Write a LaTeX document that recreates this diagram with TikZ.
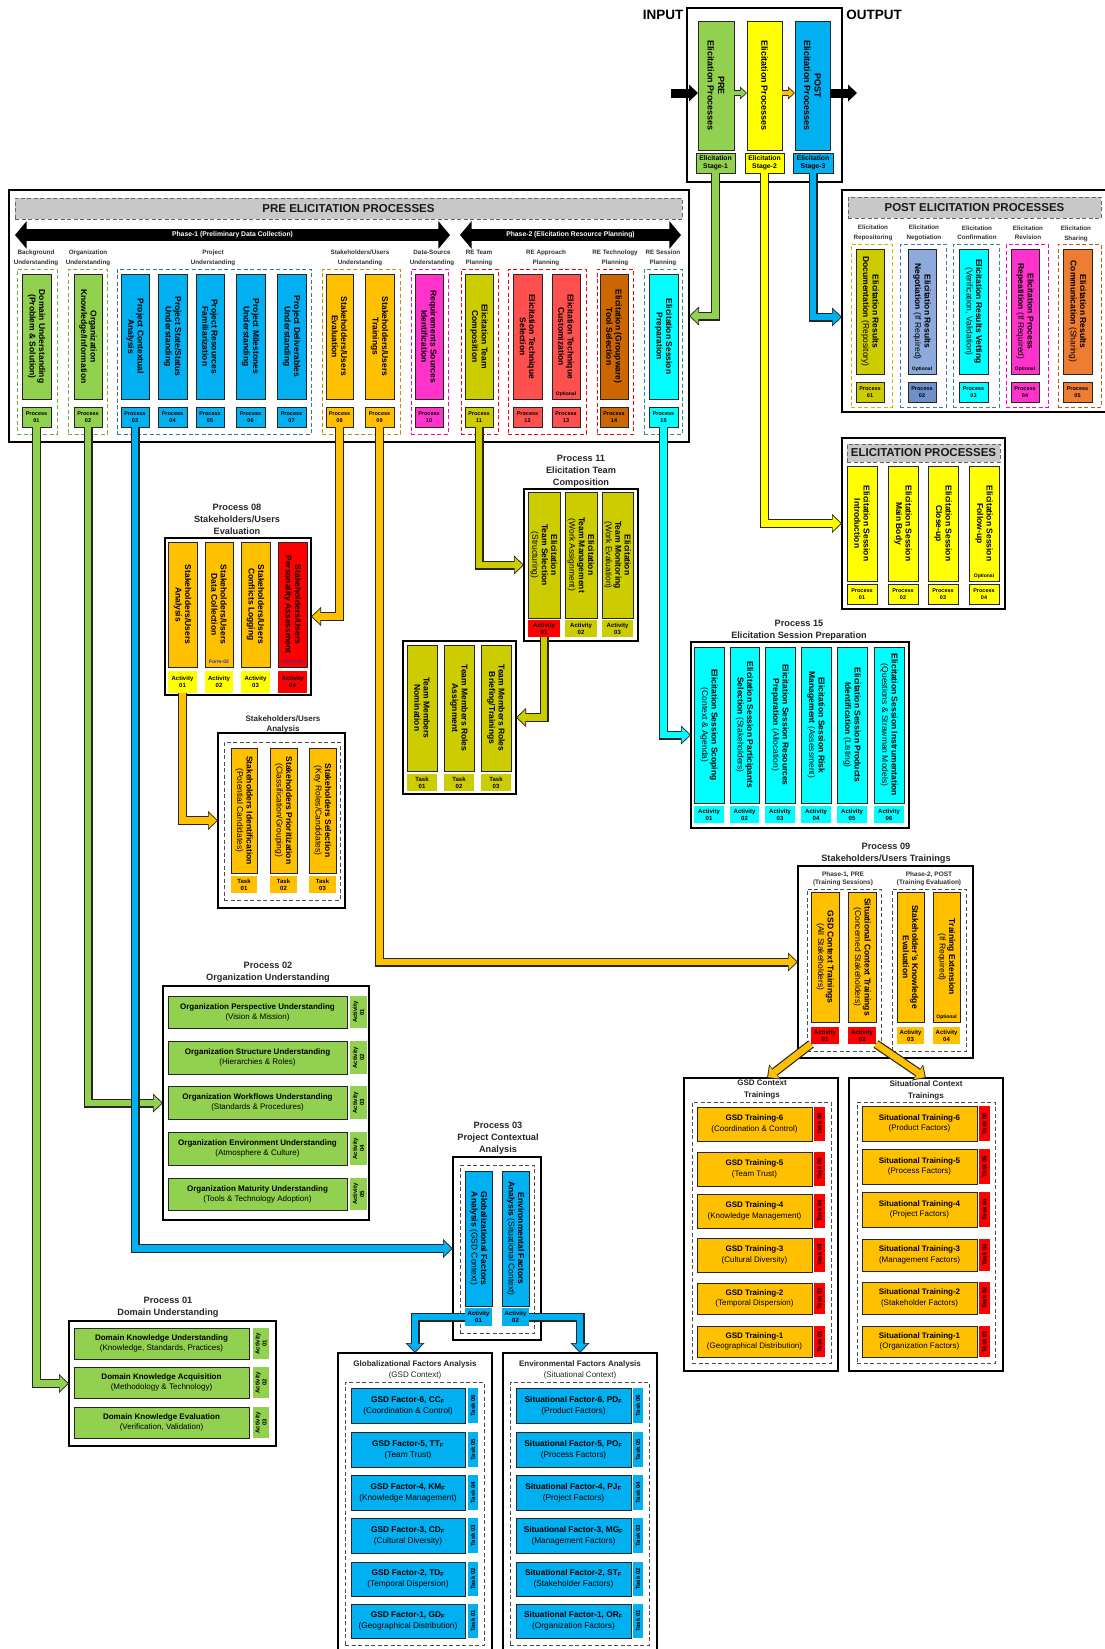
\documentclass[tikz,border=0pt]{standalone}
\usepackage{fontspec}
\setmainfont{Liberation Sans}
\usetikzlibrary{arrows.meta,shapes.arrows,calc}
\definecolor{cgreen}{HTML}{92D050}
\definecolor{cyellow}{HTML}{FFFF00}
\definecolor{cblue}{HTML}{00B0F0}
\definecolor{corange}{HTML}{FFC000}
\definecolor{cmag}{HTML}{FF33CC}
\definecolor{csalmon}{HTML}{FF5050}
\definecolor{colive}{HTML}{CCCC00}
\definecolor{cbrown}{HTML}{CC6600}
\definecolor{ccyan}{HTML}{00FFFF}
\definecolor{cperi}{HTML}{8EA9DB}
\definecolor{cperid}{HTML}{6F8FC8}
\definecolor{corgb}{HTML}{ED7D31}
\definecolor{cred}{HTML}{FF0000}
\definecolor{cgray}{HTML}{C8C8C8}
\definecolor{dgreen}{HTML}{70AD47}
\definecolor{dblue}{HTML}{2E75B6}
\definecolor{dorange}{HTML}{BF9000}
\definecolor{dmag}{HTML}{FF00CC}
\definecolor{dred}{HTML}{FF0000}
\definecolor{dteal}{HTML}{2F8F8F}
\definecolor{dolive}{HTML}{BFBF00}
\definecolor{dperi}{HTML}{4472C4}
\definecolor{dbrown}{HTML}{C55A11}
\definecolor{formblue}{HTML}{3030C0}
\tikzset{
 nb/.style={inner sep=0.5pt,outer sep=0pt,align=center,text=black},
 tallbox/.style={nb,draw=black!85,line width=0.7pt,rotate=-90,font=\fontsize{8.5}{9.4}\selectfont\bfseries},
 plab/.style={nb,draw=black!85,line width=0.7pt,font=\fontsize{5.5}{6.6}\selectfont\bfseries},
 alab/.style={nb,font=\fontsize{6}{7}\selectfont\bfseries},
 vlab/.style={nb,rotate=90,font=\fontsize{6}{7}\selectfont\bfseries},
 obox/.style={nb,draw=black,line width=1.3pt},
 dgrp/.style={nb,draw=black!70,line width=0.9pt,dash pattern=on 4pt off 2.5pt},
 catl/.style={nb,font=\fontsize{6.3}{9.3}\selectfont\bfseries,text=black!80},
 ttl/.style={nb,font=\fontsize{9.2}{12}\selectfont\bfseries,text=black!85},
 hitem/.style={nb,draw=black!85,line width=0.8pt,font=\fontsize{8}{10}\selectfont\bfseries},
 hdr/.style={nb,draw=black!60,line width=0.8pt,dash pattern=on 4pt off 2.5pt,font=\fontsize{11.5}{13}\selectfont\bfseries,text=black!90},
 tinyl/.style={nb,font=\fontsize{5}{6}\selectfont\bfseries},
 phasearr/.style={double arrow,fill=black,text=white,inner sep=2.4pt,double arrow head extend=8pt,double arrow tip angle=100,font=\fontsize{6.8}{7.5}\selectfont\bfseries},
}
% horizontal box: [style]{name}{fill}{x1}{y1}{x2}{y2}{text}
\newcommand\mkh[8][nb]{\node[#1,fill=#3,minimum width={#6-#4},minimum height={#7-#5}] (#2) at ({(#4+#6)/2},{(#5+#7)/2}) {#8};}
% tall box, text rotated clockwise
\newcommand\mkt[8][]{\node[tallbox,fill=#3,minimum width={#7-#5},minimum height={#6-#4},#1] (#2) at ({(#4+#6)/2},{(#5+#7)/2}) {#8};}
% vertical label, text rotated counter-clockwise
\newcommand\mkv[8][]{\node[vlab,fill=#3,minimum width={#7-#5},minimum height={#6-#4},#1] (#2) at ({(#4+#6)/2},{(#5+#7)/2}) {#8};}
\newcommand\blockarr[2]{%
 \draw[line width=9pt,draw=black!85,-{Triangle[width=19pt,length=10pt,line width=0pt]}] #2;
 \draw[line width=6.6pt,draw=#1,shorten >=1.4pt,-{Triangle[width=15.5pt,length=8pt,line width=0pt]}] #2;}
\newcommand\smallarr[2]{%
 \draw[line width=6pt,draw=black!85,-{Triangle[width=13pt,length=7pt,line width=0pt]}] #2;
 \draw[line width=4pt,draw=#1,shorten >=1.2pt,-{Triangle[width=9.6pt,length=5.3pt,line width=0pt]}] #2;}
\begin{document}
\begin{tikzpicture}[x=1pt,y=-1pt]
\useasboundingbox (0,0) rectangle (1104,1649);
\fill[white] (0,0) rectangle (1104,1649);

%================ TOP ================
\mkh[obox]{topbox}{white}{687}{8}{842}{182}{}
\node[nb,font=\fontsize{13.5}{15}\selectfont\bfseries] (inlab) at (663,15) {INPUT};
\node[nb,font=\fontsize{13.5}{15}\selectfont\bfseries] (outlab) at (874,15) {OUTPUT};
\mkt[font=\fontsize{9}{10.5}\selectfont\bfseries]{pre}{cgreen}{698}{21}{734}{150}{PRE\\Elicitation Processes}
\mkt[font=\fontsize{9}{10.5}\selectfont\bfseries]{mid}{cyellow}{747}{21}{782}{150}{Elicitation Processes}
\mkt[font=\fontsize{9}{10.5}\selectfont\bfseries]{post}{cblue}{795}{21}{830}{150}{POST\\Elicitation Processes}
\mkh[plab,font=\fontsize{6.8}{8.5}\selectfont\bfseries]{s1}{cgreen}{696}{153}{735}{173}{Elicitation\\Stage-1}
\mkh[plab,font=\fontsize{6.8}{8.5}\selectfont\bfseries]{s2}{cyellow}{745}{153}{784}{173}{Elicitation\\Stage-2}
\mkh[plab,font=\fontsize{6.8}{8.5}\selectfont\bfseries]{s3}{cblue}{793}{153}{833}{173}{Elicitation\\Stage-3}
\coordinate (in0) at (671,93);
\coordinate (out0) at (857,93);

%================ PRE ================
\mkh[obox]{preout}{white}{9}{190}{689}{442}{}
\mkh[hdr]{prehead}{cgray}{15}{198}{682}{219}{PRE ELICITATION PROCESSES}
\node[phasearr,minimum height=435pt] (ph1) at (232.5,235) {Phase-1 (Preliminary Data Collection)};
\node[phasearr,minimum height=221pt] (ph2) at (570.5,235) {Phase-2 (Elicitation Resource Planning)};
\node[catl] (c1) at (36,258) {Background\\Understanding};
\node[catl] (c2) at (88,258) {Organization\\Understanding};
\node[catl] (c3) at (213,258) {Project\\Understanding};
\node[catl] (c4) at (360,258) {Stakeholders/Users\\Understanding};
\node[catl] (c5) at (432,258) {Data-Source\\Understanding};
\node[catl] (c6) at (479,258) {RE Team\\Planning};
\node[catl] (c7) at (546,258) {RE Approach\\Planning};
\node[catl] (c8) at (615,258) {RE Technology\\Planning};
\node[catl] (c9) at (663,258) {RE Session\\Planning};
\mkh[dgrp,draw=dgreen]{g1}{none}{17}{269}{57}{434}{}
\mkh[dgrp,draw=dgreen]{g2}{none}{68}{269}{107}{434}{}
\mkh[dgrp,draw=dblue]{g3}{none}{117}{269}{311}{434}{}
\mkh[dgrp,draw=dorange]{g4}{none}{322}{269}{400}{434}{}
\mkh[dgrp,draw=dmag]{g5}{none}{411}{269}{448}{434}{}
\mkh[dgrp,draw=dred]{g6}{none}{461}{269}{498}{434}{}
\mkh[dgrp,draw=dred]{g7}{none}{508}{269}{586}{434}{}
\mkh[dgrp,draw=dred]{g8}{none}{597}{269}{633}{434}{}
\mkh[dgrp,draw=dteal]{g9}{none}{644}{269}{682}{434}{}
\mkt{p01}{cgreen}{22}{274}{51}{399}{Domain Understanding\\(Problem \& Solution)}
\mkt{p02}{cgreen}{74}{274}{102}{399}{Organization\\Knowledge/Information}
\mkt{p03}{cblue}{121}{274}{149}{399}{Project Contextual\\Analysis}
\mkt{p04}{cblue}{158}{274}{187}{399}{Project State/Status\\Understanding}
\mkt{p05}{cblue}{196}{274}{224}{399}{Project Resources\\Familiarization}
\mkt{p06}{cblue}{236}{274}{265}{399}{Project Milestones\\Understanding}
\mkt{p07}{cblue}{277}{274}{306}{399}{Project Deliverables\\Understanding}
\mkt{p08}{corange}{326}{274}{353}{399}{Stakeholders/Users\\Evaluation}
\mkt{p09}{corange}{365}{274}{394}{399}{Stakeholders/Users\\Trainings}
\mkt{p10}{cmag}{415}{274}{443}{399}{Requirements Sources\\Identification}
\mkt{p11}{colive}{465}{274}{493}{399}{Elicitation Team\\Composition}
\mkt{p12}{csalmon}{513}{274}{542}{399}{Elicitation Technique\\Selection}
\mkt{p13}{csalmon}{552}{274}{580}{399}{Elicitation Technique\\Customization}
\mkt{p14}{cbrown}{600}{274}{628}{399}{Elicitation (Groupware)\\Tool Selection}
\mkt{p15}{ccyan}{649}{274}{678}{399}{Elicitation Session\\Preparation}
\node[tinyl] (opt13) at (566,394) {Optional};
\mkh[plab]{pl01}{cgreen}{22}{407}{51}{427}{Process\\01}
\mkh[plab]{pl02}{cgreen}{74}{407}{102}{427}{Process\\02}
\mkh[plab]{pl03}{cblue}{121}{407}{149}{427}{Process\\03}
\mkh[plab]{pl04}{cblue}{158}{407}{187}{427}{Process\\04}
\mkh[plab]{pl05}{cblue}{196}{407}{224}{427}{Process\\05}
\mkh[plab]{pl06}{cblue}{236}{407}{265}{427}{Process\\06}
\mkh[plab]{pl07}{cblue}{277}{407}{306}{427}{Process\\07}
\mkh[plab]{pl08}{corange}{326}{407}{353}{427}{Process\\08}
\mkh[plab]{pl09}{corange}{365}{407}{394}{427}{Process\\09}
\mkh[plab]{pl10}{cmag}{415}{407}{443}{427}{Process\\10}
\mkh[plab]{pl11}{colive}{465}{407}{493}{427}{Process\\11}
\mkh[plab]{pl12}{csalmon}{513}{407}{542}{427}{Process\\12}
\mkh[plab]{pl13}{csalmon}{552}{407}{580}{427}{Process\\13}
\mkh[plab]{pl14}{cbrown}{600}{407}{628}{427}{Process\\14}
\mkh[plab]{pl15}{ccyan}{649}{407}{678}{427}{Process\\15}

%================ POST ================
\mkh[obox]{postout}{white}{842}{190}{1106}{412}{}
\mkh[hdr]{posthead}{cgray}{848}{197}{1101}{218}{POST ELICITATION PROCESSES}
\node[catl] (pc1) at (873,233) {Elicitation\\Repositoring};
\node[catl] (pc2) at (924,233) {Elicitation\\Negotiation};
\node[catl] (pc3) at (977,233) {Elicitation\\Confirmation};
\node[catl] (pc4) at (1028,233) {Elicitation\\Revision};
\node[catl] (pc5) at (1076,234) {Elicitation\\Sharing};
\mkh[dgrp,draw=dolive]{pg1}{none}{851}{244}{892}{407}{}
\mkh[dgrp,draw=dperi]{pg2}{none}{900}{244}{946}{407}{}
\mkh[dgrp,draw=dteal]{pg3}{none}{953}{244}{999}{407}{}
\mkh[dgrp,draw=dmag]{pg4}{none}{1006}{244}{1048}{407}{}
\mkh[dgrp,draw=dbrown]{pg5}{none}{1058}{244}{1101}{407}{}
\mkt{q1}{colive}{856}{249}{884}{374}{Elicitation Results\\Documentation {\mdseries(Repository)}}
\mkt{q2}{cperi}{908}{249}{936}{374}{Elicitation Results\\Negotiation {\mdseries(If Required)}}
\mkt{q3}{ccyan}{959}{249}{988}{374}{Elicitation Results Vetting\\{\mdseries(Verification, Validation)}}
\mkt{q4}{cmag}{1011}{249}{1039}{374}{Elicitation Process\\Repeatition {\mdseries(If Required)}}
\mkt{q5}{corgb}{1063}{249}{1092}{374}{Elicitation Results\\Communication {\mdseries(Sharing)}}
\node[tinyl] (optq2) at (922,369) {Optional};
\node[tinyl] (optq4) at (1025,369) {Optional};
\mkh[plab]{ql1}{colive}{856}{382}{884}{402}{Process\\01}
\mkh[plab]{ql2}{cperid}{908}{382}{936}{402}{Process\\02}
\mkh[plab]{ql3}{ccyan}{959}{382}{988}{402}{Process\\03}
\mkh[plab]{ql4}{cmag}{1011}{382}{1039}{402}{Process\\04}
\mkh[plab]{ql5}{corgb}{1063}{382}{1092}{402}{Process\\05}

%================ ELICITATION ================
\mkh[obox]{elout}{white}{842}{438}{1005}{609}{}
\mkh[hdr]{elhead}{cgray}{847}{444}{1000}{462}{ELICITATION PROCESSES}
\mkt{el1}{cyellow}{847}{466}{877}{581}{Elicitation Session\\Introduction}
\mkt{el2}{cyellow}{888}{466}{918}{581}{Elicitation Session\\Main Body}
\mkt{el3}{cyellow}{928}{466}{958}{581}{Elicitation Session\\Close-up}
\mkt{el4}{cyellow}{969}{466}{999}{581}{Elicitation Session\\Follow-up}
\node[tinyl] (optel4) at (984,576) {Optional};
\mkh[plab]{ell1}{cyellow}{847}{584}{877}{604}{Process\\01}
\mkh[plab]{ell2}{cyellow}{888}{584}{918}{604}{Process\\02}
\mkh[plab]{ell3}{cyellow}{928}{584}{958}{604}{Process\\03}
\mkh[plab]{ell4}{cyellow}{969}{584}{999}{604}{Process\\04}

%================ PROCESS 15 ================
\node[ttl] (t15) at (799,630.5) {Process 15\\Elicitation Session Preparation};
\mkh[obox]{p15out}{white}{691}{642}{909}{828}{}
\mkt{s151}{ccyan}{694}{647}{724}{803}{Elicitation Session Scoping\\{\mdseries(Context \& Agenda)}}
\mkt{s152}{ccyan}{730}{647}{759}{803}{Elicitation Session Participants\\Selection {\mdseries(Stakeholders)}}
\mkt{s153}{ccyan}{765}{647}{795}{803}{Elicitation Session Resources\\Preparation {\mdseries(Allocation)}}
\mkt{s154}{ccyan}{801}{647}{831}{803}{Elicitation Session Risk\\Management {\mdseries(Assessment)}}
\mkt{s155}{ccyan}{837}{647}{867}{803}{Elicitation Session Products\\Identification {\mdseries(Listing)}}
\mkt{s156}{ccyan}{874}{647}{904}{803}{Elicitation Session Instrumentation\\{\mdseries(Questions \& Strawman Models)}}
\mkh[alab]{a151}{ccyan}{694}{806}{724}{823}{Activity\\01}
\mkh[alab]{a152}{ccyan}{730}{806}{759}{823}{Activity\\02}
\mkh[alab]{a153}{ccyan}{765}{806}{795}{823}{Activity\\03}
\mkh[alab]{a154}{ccyan}{801}{806}{831}{823}{Activity\\04}
\mkh[alab]{a155}{ccyan}{837}{806}{867}{823}{Activity\\05}
\mkh[alab]{a156}{ccyan}{874}{806}{904}{823}{Activity\\06}

%================ PROCESS 08 ================
\node[ttl] (t08) at (237,519) {Process 08\\Stakeholders/Users\\Evaluation};
\mkh[obox]{p08out}{white}{165}{538}{311}{695}{}
\mkt{e081}{corange}{168}{542}{197}{667}{Stakeholders/Users\\Analysis}
\mkt{e082}{corange}{205}{542}{233}{667}{Stakeholders/Users\\Data Collection}
\mkt{e083}{corange}{241}{542}{270}{667}{Stakeholders/Users\\Conflicts Logging}
\mkt{e084}{cred}{278}{542}{307}{667}{Stakeholders/Users\\Personality Assessment}
\node[tinyl,text=formblue] (f082) at (219,662) {Form-02};
\node[tinyl,text=formblue] (f084) at (292.5,662) {Form-01};
\mkh[alab]{a081}{cyellow}{168}{671}{197}{693}{Activity\\01}
\mkh[alab]{a082}{cyellow}{205}{671}{233}{693}{Activity\\02}
\mkh[alab]{a083}{cyellow}{241}{671}{270}{693}{Activity\\03}
\mkh[alab]{a084}{cred}{278}{671}{307}{693}{Activity\\04}

%================ PROCESS 11 ================
\node[ttl] (t11) at (581,471) {Process 11\\Elicitation Team\\Composition};
\mkh[obox]{p11out}{white}{524}{489}{638}{641}{}
\mkt{e111}{colive}{528}{492}{560}{618}{Elicitation\\Team Selection\\{\mdseries(Structuring)}}
\mkt{e112}{colive}{565}{492}{597}{618}{Elicitation\\Team Management\\{\mdseries(Work Assignment)}}
\mkt{e113}{colive}{602}{492}{633}{618}{Elicitation\\Team Monitoring\\{\mdseries(Work Evaluation)}}
\mkh[alab]{a111}{cred}{528}{620}{560}{637}{Activity\\01}
\mkh[alab]{a112}{colive}{565}{620}{597}{637}{Activity\\02}
\mkh[alab]{a113}{colive}{602}{620}{633}{637}{Activity\\03}

%================ TEAM MEMBERS ================
\mkh[obox]{teamout}{white}{403}{641}{516}{794}{}
\mkt{tm1}{colive}{407}{645}{437}{771}{Team Members\\Nomination}
\mkt{tm2}{colive}{444}{645}{474}{771}{Team Members Roles\\Assignment}
\mkt{tm3}{colive}{481}{645}{511}{771}{Team Members Roles\\Briefing/Trainings}
\mkh[alab]{tt1}{colive}{407}{774}{437}{791}{Task\\01}
\mkh[alab]{tt2}{colive}{444}{774}{474}{791}{Task\\02}
\mkh[alab]{tt3}{colive}{481}{774}{511}{791}{Task\\03}

%================ STAKEHOLDERS ANALYSIS ================
\node[ttl,font=\fontsize{8}{9.5}\selectfont\bfseries] (tsua) at (283,724.5) {Stakeholders/Users\\Analysis};
\mkh[obox]{suaout}{white}{218}{733}{345}{908}{}
\mkh[dgrp]{suadash}{none}{224}{742}{340}{900}{}
\mkt{su1}{corange}{231}{748}{257}{873}{Stakeholders Identification\\{\mdseries(Potential Candidates)}}
\mkt{su2}{corange}{270}{748}{297}{873}{Stakeholders Prioritization\\{\mdseries(Classification/Grouping)}}
\mkt{su3}{corange}{309}{748}{336}{873}{Stakeholders Selection\\{\mdseries(Key Roles/Candidates)}}
\mkh[alab]{st1}{corange}{231}{876}{257}{893}{Task\\01}
\mkh[alab]{st2}{corange}{270}{876}{297}{893}{Task\\02}
\mkh[alab]{st3}{corange}{309}{876}{336}{893}{Task\\03}

%================ PROCESS 09 ================
\node[ttl] (t09) at (886,853) {Process 09\\Stakeholders/Users Trainings};
\mkh[obox]{p09out}{white}{798}{866}{973}{1058}{}
\node[catl,font=\fontsize{6.5}{8}\selectfont\bfseries] (ph91) at (843,879) {Phase-1, PRE\\(Training Sessions)};
\node[catl,font=\fontsize{6.5}{8}\selectfont\bfseries] (ph92) at (929,879) {Phase-2, POST\\(Training Evaluation)};
\mkh[dgrp]{p09d1}{none}{807}{889}{881}{1051}{}
\mkh[dgrp]{p09d2}{none}{892}{889}{966}{1051}{}
\mkt{t091}{corange}{811}{892}{839}{1022}{GSD Context Trainings\\{\mdseries(All Stakeholders)}}
\mkt{t092}{corange}{848}{892}{876}{1022}{Situational Context Trainings\\{\mdseries(Concerned Stakeholders)}}
\mkt{t093}{corange}{897}{892}{924}{1022}{Stakeholder's Knowledge\\Evaluation}
\mkt{t094}{corange}{933}{892}{960}{1022}{Training Extension\\{\mdseries(If Required)}}
\node[tinyl] (opt094) at (946.5,1017) {Optional};
\mkh[alab]{a091}{cred}{811}{1027}{839}{1044}{Activity\\01}
\mkh[alab]{a092}{cred}{848}{1027}{876}{1044}{Activity\\02}
\mkh[alab]{a093}{corange}{897}{1027}{924}{1044}{Activity\\03}
\mkh[alab]{a094}{corange}{933}{1027}{960}{1044}{Activity\\04}

%================ GSD CONTEXT TRAININGS ================
\mkh[obox]{gsdout}{white}{684}{1078}{838}{1371}{}
\node[ttl,font=\fontsize{8}{12}\selectfont\bfseries] (tgsd) at (762,1090) {GSD Context\\Trainings};
\mkh[dgrp]{gsdd}{none}{692}{1102}{831}{1363}{}
\mkh[hitem,font=\fontsize{8}{10.5}\selectfont\bfseries]{gt6}{corange}{697}{1107}{812}{1141}{GSD Training-6\\{\mdseries(Coordination \& Control)}}
\mkh[hitem,font=\fontsize{8}{10.5}\selectfont\bfseries]{gt5}{corange}{697}{1152}{812}{1186}{GSD Training-5\\{\mdseries(Team Trust)}}
\mkh[hitem,font=\fontsize{8}{10.5}\selectfont\bfseries]{gt4}{corange}{697}{1194}{812}{1228}{GSD Training-4\\{\mdseries(Knowledge Management)}}
\mkh[hitem,font=\fontsize{8}{10.5}\selectfont\bfseries]{gt3}{corange}{697}{1238}{812}{1272}{GSD Training-3\\{\mdseries(Cultural Diversity)}}
\mkh[hitem,font=\fontsize{8}{10.5}\selectfont\bfseries]{gt2}{corange}{697}{1283}{812}{1314}{GSD Training-2\\{\mdseries(Temporal Dispersion)}}
\mkh[hitem,font=\fontsize{8}{10.5}\selectfont\bfseries]{gt1}{corange}{697}{1326}{812}{1357}{GSD Training-1\\{\mdseries(Geographical Distribution)}}
\mkv{gk6}{cred}{814}{1107}{825}{1141}{Task 06}
\mkv{gk5}{cred}{814}{1152}{825}{1186}{Task 05}
\mkv{gk4}{cred}{814}{1194}{825}{1228}{Task 04}
\mkv{gk3}{cred}{814}{1238}{825}{1272}{Task 03}
\mkv{gk2}{cred}{814}{1283}{825}{1314}{Task 02}
\mkv{gk1}{cred}{814}{1326}{825}{1357}{Task 01}

%================ SITUATIONAL CONTEXT TRAININGS ================
\mkh[obox]{sitout}{white}{849}{1078}{1003}{1371}{}
\node[ttl,font=\fontsize{8}{12}\selectfont\bfseries] (tsit) at (926,1090) {Situational Context\\Trainings};
\mkh[dgrp]{sitd}{none}{857}{1102}{995}{1363}{}
\mkh[hitem,font=\fontsize{8}{10.5}\selectfont\bfseries]{sx6}{corange}{862}{1106}{977}{1141}{Situational Training-6\\{\mdseries(Product Factors)}}
\mkh[hitem,font=\fontsize{8}{10.5}\selectfont\bfseries]{sx5}{corange}{862}{1149}{977}{1184}{Situational Training-5\\{\mdseries(Process Factors)}}
\mkh[hitem,font=\fontsize{8}{10.5}\selectfont\bfseries]{sx4}{corange}{862}{1192}{977}{1227}{Situational Training-4\\{\mdseries(Project Factors)}}
\mkh[hitem,font=\fontsize{8}{10.5}\selectfont\bfseries]{sx3}{corange}{862}{1239}{977}{1271}{Situational Training-3\\{\mdseries(Management Factors)}}
\mkh[hitem,font=\fontsize{8}{10.5}\selectfont\bfseries]{sx2}{corange}{862}{1282}{977}{1314}{Situational Training-2\\{\mdseries(Stakeholder Factors)}}
\mkh[hitem,font=\fontsize{8}{10.5}\selectfont\bfseries]{sx1}{corange}{862}{1326}{977}{1357}{Situational Training-1\\{\mdseries(Organization Factors)}}
\mkv{sk6}{cred}{979}{1106}{990}{1141}{Task 06}
\mkv{sk5}{cred}{979}{1149}{990}{1184}{Task 05}
\mkv{sk4}{cred}{979}{1192}{990}{1227}{Task 04}
\mkv{sk3}{cred}{979}{1239}{990}{1271}{Task 03}
\mkv{sk2}{cred}{979}{1282}{990}{1314}{Task 02}
\mkv{sk1}{cred}{979}{1326}{990}{1357}{Task 01}

%================ PROCESS 02 ================
\node[ttl] (t02) at (268,972) {Process 02\\Organization Understanding};
\mkh[obox]{p02out}{white}{163}{986}{369}{1220}{}
\mkh[hitem]{o1}{cgreen}{168}{996}{347}{1028}{Organization Perspective Understanding\\{\mdseries(Vision \& Mission)}}
\mkh[hitem]{o2}{cgreen}{168}{1041}{347}{1074}{Organization Structure Understanding\\{\mdseries(Hierarchies \& Roles)}}
\mkh[hitem]{o3}{cgreen}{168}{1086}{347}{1119}{Organization Workflows Understanding\\{\mdseries(Standards \& Procedures)}}
\mkh[hitem]{o4}{cgreen}{168}{1132}{347}{1165}{Organization Environment Understanding\\{\mdseries(Atmosphere \& Culture)}}
\mkh[hitem]{o5}{cgreen}{168}{1178}{347}{1210}{Organization Maturity Understanding\\{\mdseries(Tools \& Technology Adoption)}}
\mkv{oa1}{cgreen}{350}{996}{367}{1028}{Activity\\01}
\mkv{oa2}{cgreen}{350}{1041}{367}{1074}{Activity\\02}
\mkv{oa3}{cgreen}{350}{1086}{367}{1119}{Activity\\03}
\mkv{oa4}{cgreen}{350}{1132}{367}{1165}{Activity\\04}
\mkv{oa5}{cgreen}{350}{1178}{367}{1210}{Activity\\05}

%================ PROCESS 03 ================
\node[ttl] (t03) at (498,1138) {Process 03\\Project Contextual\\Analysis};
\mkh[obox]{p03out}{white}{453}{1157}{541}{1340}{}
\mkh[dgrp]{p03d}{none}{460}{1165}{534}{1333}{}
\mkt{c031}{cblue}{465}{1171}{492}{1306}{Globalizational Factors\\Analysis {\mdseries(GSD Context)}}
\mkt{c032}{cblue}{502}{1171}{529}{1306}{Environmental Factors\\Analysis {\mdseries(Situational Context)}}
\mkh[alab]{a031}{cblue}{465}{1308}{492}{1326}{Activity\\01}
\mkh[alab]{a032}{cblue}{502}{1308}{529}{1326}{Activity\\02}

%================ GLOBALIZATIONAL / ENVIRONMENTAL ================
\mkh[obox]{globout}{white}{338}{1353}{492}{1653}{}
\node[nb,font=\fontsize{8}{11}\selectfont\bfseries,text=black!85] (tglob) at (415,1369.5) {Globalizational Factors Analysis\\{\mdseries(GSD Context)}};
\mkh[dgrp]{globd}{none}{345}{1382}{484}{1645}{}
\mkh[hitem,font=\fontsize{8.3}{11}\selectfont\bfseries]{gf6}{cblue}{351}{1388}{465}{1423}{GSD Factor-6, CC\textsubscript{F}\\{\mdseries(Coordination \& Control)}}
\mkh[hitem,font=\fontsize{8.3}{11}\selectfont\bfseries]{gf5}{cblue}{351}{1432}{465}{1467}{GSD Factor-5, TT\textsubscript{F}\\{\mdseries(Team Trust)}}
\mkh[hitem,font=\fontsize{8.3}{11}\selectfont\bfseries]{gf4}{cblue}{351}{1475}{465}{1510}{GSD Factor-4, KM\textsubscript{F}\\{\mdseries(Knowledge Management)}}
\mkh[hitem,font=\fontsize{8.3}{11}\selectfont\bfseries]{gf3}{cblue}{351}{1518}{465}{1553}{GSD Factor-3, CD\textsubscript{F}\\{\mdseries(Cultural Diversity)}}
\mkh[hitem,font=\fontsize{8.3}{11}\selectfont\bfseries]{gf2}{cblue}{351}{1562}{465}{1596}{GSD Factor-2, TD\textsubscript{F}\\{\mdseries(Temporal Dispersion)}}
\mkh[hitem,font=\fontsize{8.3}{11}\selectfont\bfseries]{gf1}{cblue}{351}{1604}{465}{1638}{GSD Factor-1, GD\textsubscript{F}\\{\mdseries(Geographical Distribution)}}
\mkv{gfk6}{cblue}{468}{1388}{478}{1423}{Task 06}
\mkv{gfk5}{cblue}{468}{1432}{478}{1467}{Task 05}
\mkv{gfk4}{cblue}{468}{1475}{478}{1510}{Task 04}
\mkv{gfk3}{cblue}{468}{1518}{478}{1553}{Task 03}
\mkv{gfk2}{cblue}{468}{1562}{478}{1596}{Task 02}
\mkv{gfk1}{cblue}{468}{1604}{478}{1638}{Task 01}
\mkh[obox]{envout}{white}{503}{1353}{657}{1653}{}
\node[nb,font=\fontsize{8}{11}\selectfont\bfseries,text=black!85] (tenv) at (580,1369.5) {Environmental Factors Analysis\\{\mdseries(Situational Context)}};
\mkh[dgrp]{envd}{none}{510}{1382}{649}{1645}{}
\mkh[hitem,font=\fontsize{8.3}{11}\selectfont\bfseries]{ef6}{cblue}{516}{1388}{631}{1423}{Situational Factor-6, PD\textsubscript{F}\\{\mdseries(Product Factors)}}
\mkh[hitem,font=\fontsize{8.3}{11}\selectfont\bfseries]{ef5}{cblue}{516}{1432}{631}{1467}{Situational Factor-5, PO\textsubscript{F}\\{\mdseries(Process Factors)}}
\mkh[hitem,font=\fontsize{8.3}{11}\selectfont\bfseries]{ef4}{cblue}{516}{1475}{631}{1510}{Situational Factor-4, PJ\textsubscript{F}\\{\mdseries(Project Factors)}}
\mkh[hitem,font=\fontsize{8.3}{11}\selectfont\bfseries]{ef3}{cblue}{516}{1518}{631}{1553}{Situational Factor-3, MG\textsubscript{F}\\{\mdseries(Management Factors)}}
\mkh[hitem,font=\fontsize{8.3}{11}\selectfont\bfseries]{ef2}{cblue}{516}{1562}{631}{1596}{Situational Factor-2, ST\textsubscript{F}\\{\mdseries(Stakeholder Factors)}}
\mkh[hitem,font=\fontsize{8.3}{11}\selectfont\bfseries]{ef1}{cblue}{516}{1604}{631}{1638}{Situational Factor-1, OR\textsubscript{F}\\{\mdseries(Organization Factors)}}
\mkv{efk6}{cblue}{633}{1388}{643}{1423}{Task 06}
\mkv{efk5}{cblue}{633}{1432}{643}{1467}{Task 05}
\mkv{efk4}{cblue}{633}{1475}{643}{1510}{Task 04}
\mkv{efk3}{cblue}{633}{1518}{643}{1553}{Task 03}
\mkv{efk2}{cblue}{633}{1562}{643}{1596}{Task 02}
\mkv{efk1}{cblue}{633}{1604}{643}{1638}{Task 01}

%================ PROCESS 01 ================
\node[ttl] (t01) at (168,1307) {Process 01\\Domain Understanding};
\mkh[obox]{p01out}{white}{69}{1321}{276}{1446}{}
\mkh[hitem]{d1}{cgreen}{74}{1328}{249}{1359}{Domain Knowledge Understanding\\{\mdseries(Knowledge, Standards, Practices)}}
\mkh[hitem]{d2}{cgreen}{74}{1367}{249}{1398}{Domain Knowledge Acquisition\\{\mdseries(Methodology \& Technology)}}
\mkh[hitem]{d3}{cgreen}{74}{1407}{249}{1438}{Domain Knowledge Evaluation\\{\mdseries(Verification, Validation)}}
\mkv{da1}{cgreen}{253}{1328}{269}{1359}{Activity\\01}
\mkv{da2}{cgreen}{253}{1367}{269}{1398}{Activity\\02}
\mkv{da3}{cgreen}{253}{1407}{269}{1438}{Activity\\03}

%================ CONNECTORS ================
\draw[line width=9pt,draw=black,-{Triangle[width=17pt,length=9pt,line width=0pt]}] (in0) -- (in0 -| pre.south);
\smallarr{cgreen}{(pre.north |- in0) -- (mid.south |- in0)}
\smallarr{corange}{(mid.north |- in0) -- (post.south |- in0)}
\draw[line width=9pt,draw=black,-{Triangle[width=17pt,length=9pt,line width=0pt]}] (post.north |- in0) -- (out0);
\blockarr{cgreen}{(s1.south) |- (preout.east)}
\blockarr{cyellow}{(s2.south) |- (elout.west)}
\blockarr{cblue}{(s3.south) |- ([yshift=-16pt]postout.west)}
\blockarr{cgreen}{(pl01.south) |- (p01out.west)}
\blockarr{cgreen}{(pl02.south) |- (p02out.west)}
\blockarr{cblue}{(pl03.south) |- (p03out.west)}
\blockarr{corange}{(pl08.south) |- (p08out.east)}
\blockarr{corange}{(pl09.south) |- (p09out.west)}
\blockarr{colive}{(pl11.south) |- (p11out.west)}
\blockarr{ccyan}{(pl15.south) |- (p15out.west)}
\blockarr{corange}{(a081.south) |- (suaout.west)}
\blockarr{colive}{(a111.south) |- (teamout.east)}
\blockarr{cblue}{(a031.west) -| (globout.north)}
\blockarr{cblue}{(a032.east) -| (envout.north)}
\blockarr{corange}{(a091.south west) -- ([xshift=6pt]gsdout.north)}
\blockarr{corange}{(a092.south east) -- (sitout.north)}
\end{tikzpicture}
\end{document}
